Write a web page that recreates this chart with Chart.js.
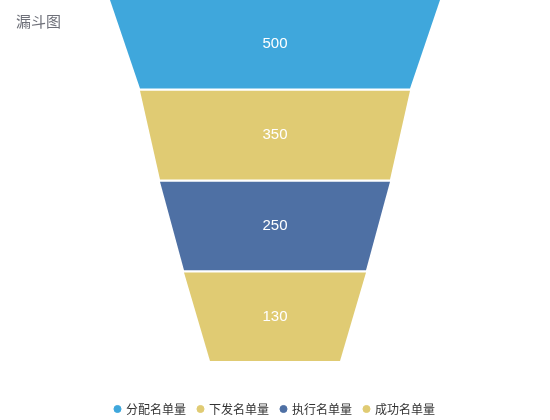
<!DOCTYPE html>
<html>
<head>
<meta charset="utf-8">
<script src="https://cdn.jsdelivr.net/npm/chart.js@4/dist/chart.umd.min.js"></script>
<style>
    html, body { margin: 0; padding: 0; background: #fff; }
    #wrap { width: 550px; height: 420px; position: relative; }
</style>
</head>
<body>
<div id="wrap"><canvas id="funnelChart"></canvas></div>
<script>
// Funnel stages, top to bottom
const stages = ['分配名单量', '下发名单量', '执行名单量', '成功名单量'];
const values = [500, 350, 250, 130];
const colors = ['#3fa7dc', '#e0cb73', '#4e70a4', '#e0cb73'];

// Width offset so a value of 0 still has some width (like echarts minSize)
const BASE = 325;
const GAP = 0.025; // gap between stages, in y units

// Each stage becomes a trapezoid: top width from its own value,
// bottom width from the next value (0 for the last stage)
function trapezoid(i) {
    const top = (values[i] + BASE) / 2;
    const next = i + 1 < values.length ? values[i + 1] : 0;
    const bottom = (next + BASE) / 2;
    return [
        { x: -top, y: i },
        { x: top, y: i },
        { x: bottom, y: i + 1 - GAP },
        { x: -bottom, y: i + 1 - GAP }
    ];
}

// Fill each dataset's points (already in pixels) as a polygon
const funnelPlugin = {
    id: 'funnel',
    beforeDatasetsDraw(chart) {
        const ctx = chart.ctx;
        chart.data.datasets.forEach((ds, i) => {
            const meta = chart.getDatasetMeta(i);
            if (meta.hidden) return;
            const pts = meta.data;
            ctx.save();
            ctx.beginPath();
            ctx.moveTo(pts[0].x, pts[0].y);
            for (let k = 1; k < pts.length; k++) ctx.lineTo(pts[k].x, pts[k].y);
            ctx.closePath();
            ctx.fillStyle = ds.backgroundColor;
            ctx.fill();

            // value label in the middle of the stage
            const cx = chart.scales.x.getPixelForValue(0);
            const cy = (pts[0].y + pts[3].y) / 2;
            ctx.fillStyle = '#fff';
            ctx.font = '15px "Liberation Sans", "Noto Sans", sans-serif';
            ctx.textAlign = 'center';
            ctx.textBaseline = 'middle';
            ctx.fillText(String(values[i]), cx, cy);
            ctx.restore();
        });
    }
};

new Chart(document.getElementById('funnelChart'), {
    type: 'scatter',
    data: {
        datasets: stages.map((name, i) => ({
            label: name,
            data: trapezoid(i),
            backgroundColor: colors[i],
            borderColor: colors[i],
            pointRadius: 0,
            pointHoverRadius: 0,
            showLine: false
        }))
    },
    options: {
        responsive: true,
        maintainAspectRatio: false,
        animation: false,
        layout: { padding: { top: 0, left: 0, right: 0, bottom: -5 } },
        scales: {
            x: { type: 'linear', min: -687.5, max: 687.5, display: false },
            y: { type: 'linear', min: 0, max: 4.304, reverse: true, display: false }
        },
        plugins: {
            title: { display: false },
            tooltip: { enabled: false },
            legend: {
                position: 'bottom',
                labels: {
                    usePointStyle: true,
                    pointStyle: 'circle',
                    boxWidth: 5,
                    boxHeight: 5,
                    padding: 12,
                    color: '#333',
                    font: { size: 12, family: '"Noto Sans CJK SC", sans-serif' }
                }
            }
        }
    },
    plugins: [funnelPlugin, {
        id: 'cornerTitle',
        afterDraw(chart) {
            const ctx = chart.ctx;
            ctx.save();
            ctx.fillStyle = '#6e7079';
            ctx.font = '15px "Noto Sans CJK SC", sans-serif';
            ctx.textAlign = 'left';
            ctx.textBaseline = 'middle';
            ctx.fillText('漏斗图', 16, 21);
            ctx.restore();
        }
    }]
});
</script>
</body>
</html>
